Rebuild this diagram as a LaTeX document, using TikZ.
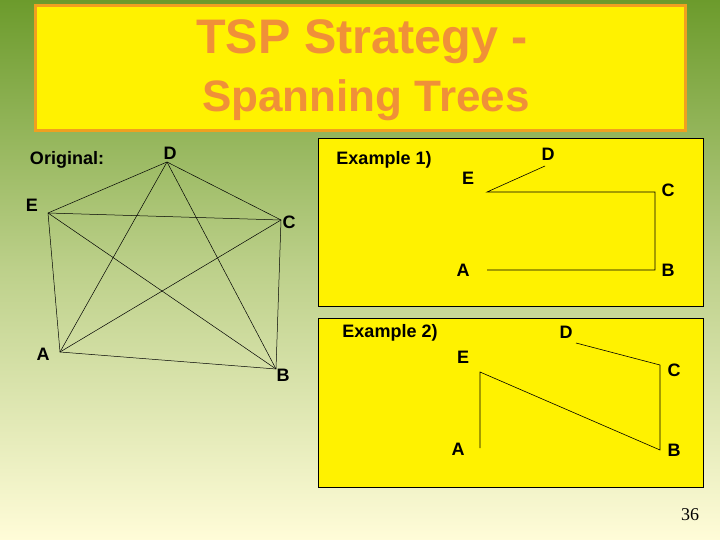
\documentclass[tikz,border=0pt]{standalone}
\usepackage{fontspec}
\setmainfont{Liberation Sans}
\newfontfamily\numfont{Liberation Serif}
\definecolor{bgtop}{HTML}{6C9B2C}
\definecolor{bgbot}{HTML}{FFFCD8}
\definecolor{titlefg}{HTML}{F09038}
\definecolor{titleframe}{HTML}{F0A020}
\tikzset{
    lbl/.style={font=\bfseries\fontsize{18}{20}\selectfont,inner sep=0pt},
    edge/.style={draw=black,line width=0.6pt},
    panel/.style={fill=yellow,draw=black,line width=0.6pt}
}
\begin{document}
\begin{tikzpicture}[x=1pt,y=-1pt]
            \useasboundingbox (0,0) rectangle (720,540);
            \shade[top color=bgtop,bottom color=bgbot,middle color=bgtop!45!bgbot] (0,0) rectangle (720,540);

            % title
            \draw[fill=yellow,draw=titleframe,line width=3pt] (35,6) rectangle (685,131);
            \node[font=\bfseries\fontsize{48.5}{54}\selectfont,text=titlefg] (title1) at (362,42) {TSP Strategy -};
            \node[font=\bfseries\fontsize{44}{48}\selectfont,text=titlefg] (title2) at (366,100) {Spanning Trees};

            % original graph
            \node[lbl] (orig) at (67,160) {Original:};
            \coordinate (gD) at (167,162);
            \coordinate (gE) at (48,213);
            \coordinate (gC) at (281,220);
            \coordinate (gA) at (60,352);
            \coordinate (gB) at (276,369);
            \node[lbl] (lD) at (170,153) {D};
            \node[lbl] (lE) at (32,205) {E};
            \node[lbl] (lC) at (289,222) {C};
            \node[lbl] (lA) at (43,354) {A};
            \node[lbl] (lB) at (283,375) {B};
            \foreach \p/\q in {gD/gE,gD/gC,gD/gA,gD/gB,gE/gC,gE/gA,gE/gB,gC/gA,gC/gB,gA/gB}
                \draw[edge,line width=0.5pt] (\p) -- (\q);

            % example 1
            \draw[panel] (318,138) rectangle (703,306);
            \node[lbl] (ex1) at (384,160) {Example 1)};
            \coordinate (aD) at (545,166);
            \coordinate (aE) at (487,192);
            \coordinate (aC) at (655,192);
            \coordinate (aB) at (655,270);
            \coordinate (aA) at (487,270);
            \node[lbl] (mD) at (548,154) {D};
            \node[lbl] (mE) at (468,178) {E};
            \node[lbl] (mC) at (668,190) {C};
            \node[lbl] (mA) at (463,270) {A};
            \node[lbl] (mB) at (668,270) {B};
            \draw[edge] (aD) -- (aE) -- (aC) -- (aB) -- (aA);

            % example 2
            \draw[panel] (318,318) rectangle (703,487);
            \node[lbl] (ex2) at (390,333) {Example 2)};
            \coordinate (bD) at (576,343);
            \coordinate (bC) at (660,365);
            \coordinate (bB) at (660,450);
            \coordinate (bE) at (480,372);
            \coordinate (bA) at (480,448);
            \node[lbl] (nD) at (566,332) {D};
            \node[lbl] (nE) at (463,357) {E};
            \node[lbl] (nC) at (674,370) {C};
            \node[lbl] (nA) at (458,449) {A};
            \node[lbl] (nB) at (674,450) {B};
            \draw[edge] (bD) -- (bC) -- (bB) -- (bE) -- (bA);

            \node[font=\numfont\fontsize{18}{20}\selectfont] (page) at (690,515) {36};
        \end{tikzpicture}
\end{document}
